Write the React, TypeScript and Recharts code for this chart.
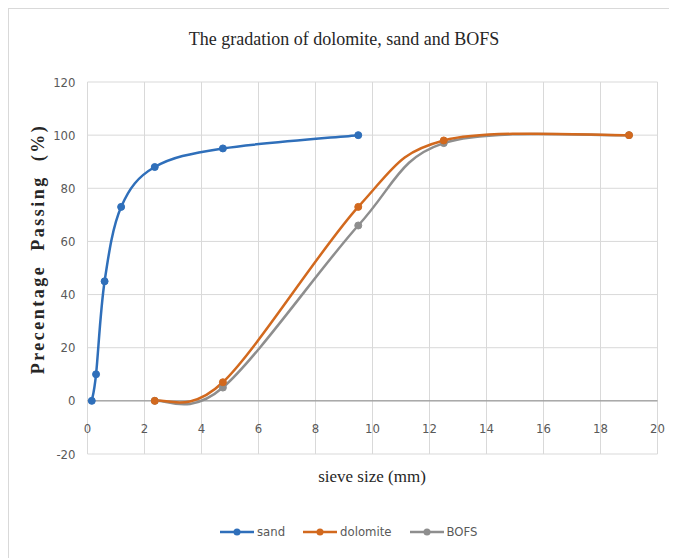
import React from 'react';
import { LineChart, Line, XAxis, YAxis, CartesianGrid, ReferenceLine } from 'recharts';

// sieve sizes (mm) and percentage passing
const sandSizes = [0.15, 0.3, 0.6, 1.18, 2.36, 4.75, 9.5];
const sandPassing = [0, 10, 45, 73, 88, 95, 100];
const coarseSizes = [2.36, 4.75, 9.5, 12.5, 19];
const dolomitePassing = [0, 7, 73, 98, 100];
const bofsPassing = [0, 5, 66, 97, 100];

const xTicks = [0, 2, 4, 6, 8, 10, 12, 14, 16, 18, 20];
const yTicks = [-20, 0, 20, 40, 60, 80, 100, 120];

const sandData = sandSizes.map((x, i) => ({ x, y: sandPassing[i] }));
const dolomiteData = coarseSizes.map((x, i) => ({ x, y: dolomitePassing[i] }));
const bofsData = coarseSizes.map((x, i) => ({ x, y: bofsPassing[i] }));

const SAND = '#2f6fba';
const DOLOMITE = '#d2691e';
const BOFS = '#8e8e8e';

// Excel style smoothed line (Catmull-Rom as cubic bezier)
const excelSmooth = (context: any) => {
  let pts: number[][] = [];
  return {
    areaStart() {},
    areaEnd() {},
    lineStart() {
      pts = [];
    },
    point(x: number, y: number) {
      pts.push([+x, +y]);
    },
    lineEnd() {
      const n = pts.length;
      if (!n) return;
      context.moveTo(pts[0][0], pts[0][1]);
      for (let i = 0; i < n - 1; i++) {
        const p0 = pts[i - 1] || pts[i];
        const p1 = pts[i];
        const p2 = pts[i + 1];
        const p3 = pts[i + 2] || p2;
        context.bezierCurveTo(
          p1[0] + (p2[0] - p0[0]) / 6,
          p1[1] + (p2[1] - p0[1]) / 6,
          p2[0] - (p3[0] - p1[0]) / 6,
          p2[1] - (p3[1] - p1[1]) / 6,
          p2[0],
          p2[1]
        );
      }
    },
  };
};

const tickFont = '"Liberation Sans Narrow", "DejaVu Sans Condensed", sans-serif';

const XTick = ({ x, y, payload }: any) => (
  <text x={x} y={y - 26} dy="0.35em" textAnchor="middle" fill="#595959" fontSize={13} fontFamily={tickFont}>
    {payload.value}
  </text>
);

const LegendItem = ({ color, label }: { color: string; label: string }) => (
  <div style={{ display: 'flex', alignItems: 'center', gap: 3 }}>
    <svg width={34} height={10}>
      <line x1={0} y1={5} x2={34} y2={5} stroke={color} strokeWidth={2.5} />
      <circle cx={17} cy={5} r={3.5} fill={color} />
    </svg>
    <span>{label}</span>
  </div>
);

export default function App() {
  return (
    <div
      style={{
        position: 'relative',
        width: 662,
        height: 552,
        boxShadow: 'inset 1px 1px 0 #d9d9d9, inset -1px 0 0 #d9d9d9',
        background: '#fff',
      }}
    >
      <div
        style={{
          position: 'absolute',
          left: 0,
          width: 672,
          top: 21,
          textAlign: 'center',
          fontFamily: '"Liberation Serif", serif',
          fontSize: 18,
          color: '#262626',
        }}
      >
        The gradation of dolomite, sand and BOFS
      </div>

      <LineChart
        width={662}
        height={552}
        margin={{ top: 74, right: 12.5, left: 0, bottom: 76 }}
      >
        <CartesianGrid stroke="#d9d9d9" strokeWidth={1} />
        <XAxis
          type="number"
          dataKey="x"
          domain={[0, 20]}
          ticks={xTicks}
          axisLine={false}
          tickLine={false}
          tickSize={0}
          tickMargin={0}
          height={30}
          interval={0}
          tick={<XTick />}
        />
        <YAxis
          type="number"
          domain={[-20, 120]}
          ticks={yTicks}
          axisLine={false}
          tickLine={false}
          tickSize={0}
          tickMargin={12}
          width={79.5}
          interval={0}
          tick={{ fill: '#595959', fontSize: 13, fontFamily: tickFont }}
        />
        <ReferenceLine y={0} stroke="#8c8c8c" strokeWidth={1} />
        <Line
          data={bofsData}
          dataKey="y"
          type={excelSmooth as any}
          stroke={BOFS}
          strokeWidth={2.5}
          dot={{ r: 3.5, fill: BOFS, stroke: BOFS, strokeWidth: 1 }}
          isAnimationActive={false}
        />
        <Line
          data={dolomiteData}
          dataKey="y"
          type={excelSmooth as any}
          stroke={DOLOMITE}
          strokeWidth={2.5}
          dot={{ r: 3.5, fill: DOLOMITE, stroke: DOLOMITE, strokeWidth: 1 }}
          isAnimationActive={false}
        />
        <Line
          data={sandData}
          dataKey="y"
          type={excelSmooth as any}
          stroke={SAND}
          strokeWidth={2.5}
          dot={{ r: 3.5, fill: SAND, stroke: SAND, strokeWidth: 1 }}
          isAnimationActive={false}
        />
      </LineChart>

      <div
        style={{
          position: 'absolute',
          left: 30,
          top: 241,
          transform: 'translate(-50%, -50%) rotate(-90deg)',
          whiteSpace: 'nowrap',
          fontFamily: '"Liberation Serif", serif',
          fontWeight: 'bold',
          fontSize: 18,
          letterSpacing: 2.5,
          wordSpacing: 7,
          color: '#262626',
        }}
      >
        Precentage Passing (%)
      </div>

      <div
        style={{
          position: 'absolute',
          left: 364,
          top: 469,
          transform: 'translate(-50%, -50%)',
          whiteSpace: 'nowrap',
          fontFamily: '"Liberation Serif", serif',
          fontSize: 17,
          color: '#262626',
        }}
      >
        sieve size (mm)
      </div>

      <div
        style={{
          position: 'absolute',
          left: 212,
          top: 516,
          display: 'flex',
          gap: 18,
          fontFamily: tickFont,
          fontSize: 13,
          color: '#595959',
        }}
      >
        <LegendItem color={SAND} label="sand" />
        <LegendItem color={DOLOMITE} label="dolomite" />
        <LegendItem color={BOFS} label="BOFS" />
      </div>
    </div>
  );
}
